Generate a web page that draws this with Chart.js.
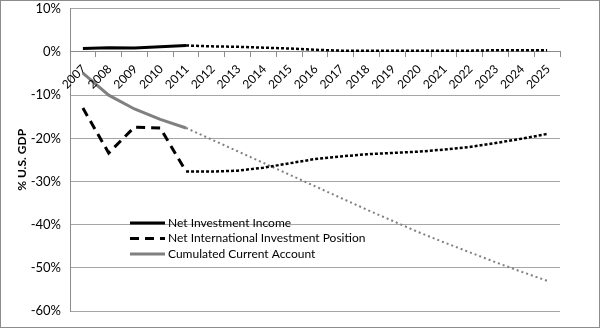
<!DOCTYPE html>
<html>
<head>
<meta charset="utf-8">
<script src="https://cdn.jsdelivr.net/npm/chart.js@4"></script>
<style>
  html, body { margin: 0; padding: 0; background: #fff; }
  #wrap { width: 598px; height: 326px; border: 1px solid #8c8c8c; position: relative; }
</style>
</head>
<body>
<div id="wrap"><canvas id="chart" width="598" height="326"></canvas></div>
<script>
const years = ['2007','2008','2009','2010','2011','2012','2013','2014','2015','2016','2017','2018','2019','2020','2021','2022','2023','2024','2025'];
const netIncome = [0.8, 1.0, 0.9, 1.2, 1.5, 1.3, 1.2, 1.0, 0.8, 0.5, 0.3, 0.3, 0.3, 0.3, 0.3, 0.3, 0.4, 0.4, 0.4];
const niip = [-13, -23.4, -17.4, -17.6, -27.7, -27.7, -27.5, -26.8, -25.8, -24.8, -24.2, -23.7, -23.4, -23.1, -22.6, -22.0, -21.1, -20.1, -19.0];
const cumCA = [-4.9, -10, -13.2, -15.6, -17.6, -20.3, -23.0, -25.7, -28.4, -31.1, -33.8, -36.5, -39.1, -41.7, -44.1, -46.4, -48.7, -50.9, -53.0];
const lastActual = 4; // 2011, after this the lines are projections

const fontFam = 'Lato, "Open Sans", sans-serif';

function projDash(solidDash, dotDash) {
  return ctx => ctx.p0DataIndex >= lastActual ? dotDash : solidDash;
}

// year labels hang under the 0% line, rotated up to the right
const yearLabels = {
  id: 'yearLabels',
  afterDraw(chart) {
    const ctx = chart.ctx;
    const xs = chart.scales.x, ys = chart.scales.y;
    const y0 = ys.getPixelForValue(0);
    ctx.save();
    ctx.font = '12px ' + fontFam;
    ctx.fillStyle = '#000';
    ctx.textAlign = 'right';
    ctx.textBaseline = 'middle';
    years.forEach((lab, i) => {
      ctx.save();
      ctx.translate(xs.getPixelForTick(i) + 1, y0 + 15);
      ctx.rotate(-Math.PI / 4);
      ctx.fillText(lab, 0, 0);
      ctx.restore();
    });
    ctx.restore();
  }
};

// legend drawn inside the plot, like the original
const insideLegend = {
  id: 'insideLegend',
  afterDraw(chart) {
    const ctx = chart.ctx;
    const items = [
      { label: 'Net Investment Income', color: '#000', dash: [] },
      { label: 'Net International Investment Position', color: '#000', dash: [9, 6] },
      { label: 'Cumulated Current Account', color: '#808080', dash: [] }
    ];
    const x0 = 129, x1 = 164, y0 = 222, dy = 15.5;
    ctx.save();
    ctx.font = '12px ' + fontFam;
    ctx.textBaseline = 'middle';
    items.forEach((it, i) => {
      const y = y0 + i * dy;
      ctx.strokeStyle = it.color;
      ctx.lineWidth = 3;
      ctx.setLineDash(it.dash);
      ctx.beginPath();
      ctx.moveTo(x0, y);
      ctx.lineTo(x1, y);
      ctx.stroke();
      ctx.fillStyle = '#000';
      ctx.fillText(it.label, x1 + 3, y);
    });
    ctx.restore();
  }
};

const chart = new Chart(document.getElementById('chart'), {
  type: 'line',
  data: {
    labels: years,
    datasets: [
      {
        label: 'Net Investment Income',
        data: netIncome,
        borderColor: '#000',
        borderWidth: 3,
        pointRadius: 0,
        segment: { borderDash: projDash([], [3, 2]), borderWidth: ctx => ctx.p0DataIndex >= lastActual ? 2.5 : 3 }
      },
      {
        label: 'Net International Investment Position',
        data: niip,
        borderColor: '#000',
        borderWidth: 3,
        pointRadius: 0,
        segment: { borderDash: projDash([9, 6], [3, 2]), borderWidth: ctx => ctx.p0DataIndex >= lastActual ? 2.5 : 3 }
      },
      {
        label: 'Cumulated Current Account',
        data: cumCA,
        borderColor: '#808080',
        borderWidth: 3,
        pointRadius: 0,
        segment: { borderDash: projDash([], [2, 3]), borderWidth: ctx => ctx.p0DataIndex >= lastActual ? 2 : 3 }
      }
    ]
  },
  options: {
    responsive: false,
    animation: false,
    layout: { padding: { left: 0, right: 39, top: 0, bottom: 16 } },
    plugins: { legend: { display: false }, tooltip: { enabled: false } },
    scales: {
      x: {
        position: { y: 0 },
        offset: true,
        grid: { drawOnChartArea: false, drawTicks: true, tickLength: 5, offset: true, color: '#8c8c8c' },
        border: { color: '#8c8c8c', width: 1 },
        ticks: { display: false }
      },
      y: {
        min: -60,
        max: 10,
        afterFit: scale => { scale.width = 69; },
        grid: { color: '#a6a6a6', drawTicks: true, tickLength: 9, tickColor: 'rgba(0,0,0,0)' },
        border: { color: '#8c8c8c' },
        title: { display: true, text: '% U.S. GDP', color: '#000', font: { family: fontFam, size: 12, weight: 'bold' }, padding: { top: 14 } },
        ticks: {
          stepSize: 10,
          padding: 0,
          color: '#000',
          font: { family: fontFam, size: 13 },
          callback: v => v + '%'
        }
      }
    }
  },
  plugins: [yearLabels, insideLegend]
});
</script>
</body>
</html>
